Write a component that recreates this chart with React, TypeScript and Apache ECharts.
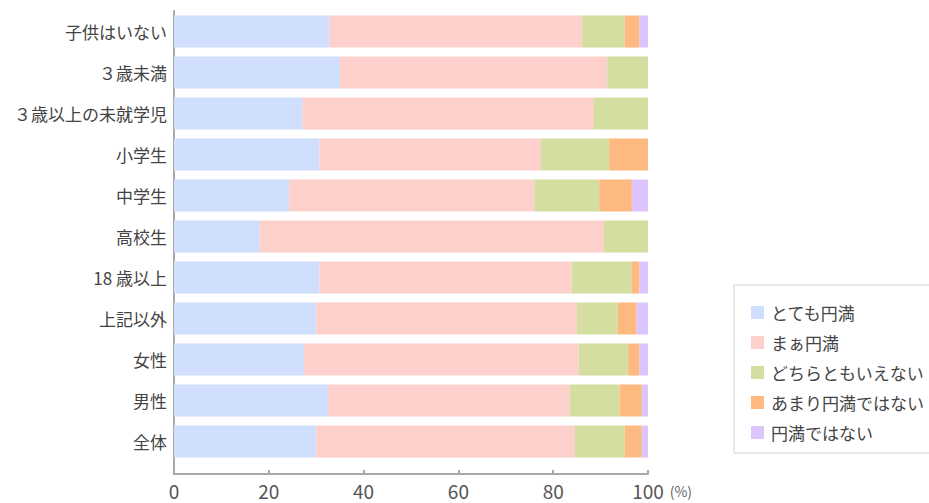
import React, { useEffect, useRef } from "react";
import * as echarts from "echarts";

const categories = [
  "子供はいない",
  "３歳未満",
  "３歳以上の未就学児",
  "小学生",
  "中学生",
  "高校生",
  "18 歳以上",
  "上記以外",
  "女性",
  "男性",
  "全体",
];

const seriesNames = ["とても円満", "まぁ円満", "どちらともいえない", "あまり円満ではない", "円満ではない"];
const colors = ["#D0DFFD", "#FDD0CC", "#D3DEA0", "#FEB980", "#DCC4FC"];

const veryHappy = [32.8, 35.0, 27.1, 30.7, 24.3, 18.1, 30.7, 30.0, 27.4, 32.5, 30.0];
const fairlyHappy = [53.3, 56.4, 61.5, 46.7, 51.7, 72.6, 53.2, 55.0, 58.0, 51.0, 54.6];
const neither = [9.0, 8.6, 11.4, 14.4, 13.7, 9.3, 12.6, 8.6, 10.4, 10.5, 10.5];
const notVery = [3.1, 0, 0, 8.2, 6.9, 0, 1.7, 4.0, 2.4, 4.7, 3.6];
const notHappy = [1.8, 0, 0, 0, 3.4, 0, 1.8, 2.4, 1.8, 1.3, 1.3];

const xTicks = [0, 20, 40, 60, 80, 100];

const seriesData = [veryHappy, fairlyHappy, neither, notVery, notHappy];

export default function App() {
  const ref = useRef<HTMLDivElement>(null);
  useEffect(() => {
    if (!ref.current) return;
    const chart = echarts.init(ref.current, null, { renderer: "svg" });
    const font = "'Noto Sans CJK JP', 'Noto Sans', sans-serif";
    const axisColor = "#a8a8a8";
    chart.setOption({
      animation: false,
      textStyle: { fontFamily: font },
      grid: { left: 174, right: 281, top: 11, bottom: 41, containLabel: false },
      legend: {
        orient: "vertical",
        left: 734,
        top: 285,
        padding: [19, 12, 12, 17],
        itemGap: 13,
        itemWidth: 13,
        itemHeight: 13,
        icon: "rect",
        borderColor: "#d0d0d0",
        borderWidth: 1,
        data: seriesNames,
        textStyle: { fontSize: 17, color: "#444", fontFamily: font, padding: [0, 0, 0, 2] },
      },
      xAxis: {
        type: "value",
        min: 0,
        max: 100,
        interval: 20,
        offset: 12,
        axisLine: { show: true, lineStyle: { color: axisColor, width: 2 } },
        axisTick: { show: true, inside: true, length: 4, lineStyle: { color: axisColor, width: 2 } },
        splitLine: { show: false },
        axisLabel: {
          fontSize: 19,
          color: "#555",
          margin: 7,
          fontFamily: font,
          formatter: (v: number) => (xTicks.includes(v) ? String(v) : ""),
        },
        name: "(%)",
        nameLocation: "end",
        nameGap: 20,
        nameTextStyle: { fontSize: 14, color: "#666", verticalAlign: "top", padding: [10, 0, 0, 0], fontFamily: font },
      },
      yAxis: {
        type: "category",
        inverse: true,
        data: categories,
        axisLine: { show: true, lineStyle: { color: axisColor, width: 2 } },
        axisTick: { show: false },
        axisLabel: { fontSize: 17, color: "#444", margin: 7, fontFamily: font },
      },
      graphic: [
        {
          type: "line",
          shape: { x1: 174, y1: 462, x2: 174, y2: 475 },
          style: { stroke: axisColor, lineWidth: 2 },
          silent: true,
        },
      ],
      series: seriesNames.map((name, i) => ({
        name,
        type: "bar",
        stack: "total",
        barWidth: 32,
        data: seriesData[i],
        itemStyle: { color: colors[i] },
      })),
    });
    return () => chart.dispose();
  }, []);
  return (
    <div
      ref={ref}
      style={{ position: "fixed", left: 0, top: 0, width: 929, height: 503, background: "#fff" }}
    />
  );
}
